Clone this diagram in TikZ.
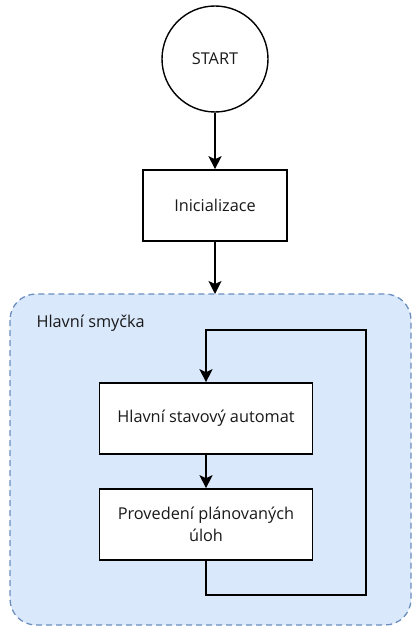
\documentclass[tikz,border=0pt]{standalone}
\usepackage{fontspec}
\setmainfont{Open Sans}
\usetikzlibrary{arrows.meta,positioning}
\definecolor{groupfill}{RGB}{218,232,252}
\definecolor{groupline}{RGB}{108,142,191}
\tikzset{
  label text/.style={font=\fontsize{16.3}{22}\selectfont, text=black!90},
  box/.style={label text, draw=black, line width=1.6pt, fill=white, minimum width=213pt, minimum height=71pt, align=center},
  flow/.style={draw=black, line width=1.6pt, -{Stealth[length=13pt,width=13pt,inset=3pt]}},
  loopgroup/.style={draw=groupline, dash pattern=on 6pt off 4pt, line width=1.3pt, fill=groupfill, rounded corners=26pt}
}
\begin{document}
\begin{tikzpicture}[x=1pt,y=-1pt]
  \useasboundingbox (0,0) rectangle (412,628);
  % main loop group
  \draw[loopgroup] (10,294) rectangle (411,625);
  \node[label text, anchor=west] (grp) at (33,323) {Hlavní smyčka};
  % nodes
  \node[label text, draw=black, line width=1.4pt, circle, minimum size=106pt] (start) at (215,59) {START};
  \node[box, minimum width=144pt] (init) at (215,205.5) {Inicializace};
  \coordinate (grouptop) at (215,294);
  \node[box] (fsm) at (206,418.5) {Hlavní stavový automat};
  \node[box] (tasks) at (206,524.5) {Provedení plánovaných\\úloh};
  % connectors
  \draw[flow] (start) -- (init);
  \draw[flow] (init) -- (grouptop);
  \draw[flow] (fsm) -- (tasks);
  \draw[flow] (tasks.south) |- (366,595) |- (206,330) -- (fsm.north);
\end{tikzpicture}
\end{document}
